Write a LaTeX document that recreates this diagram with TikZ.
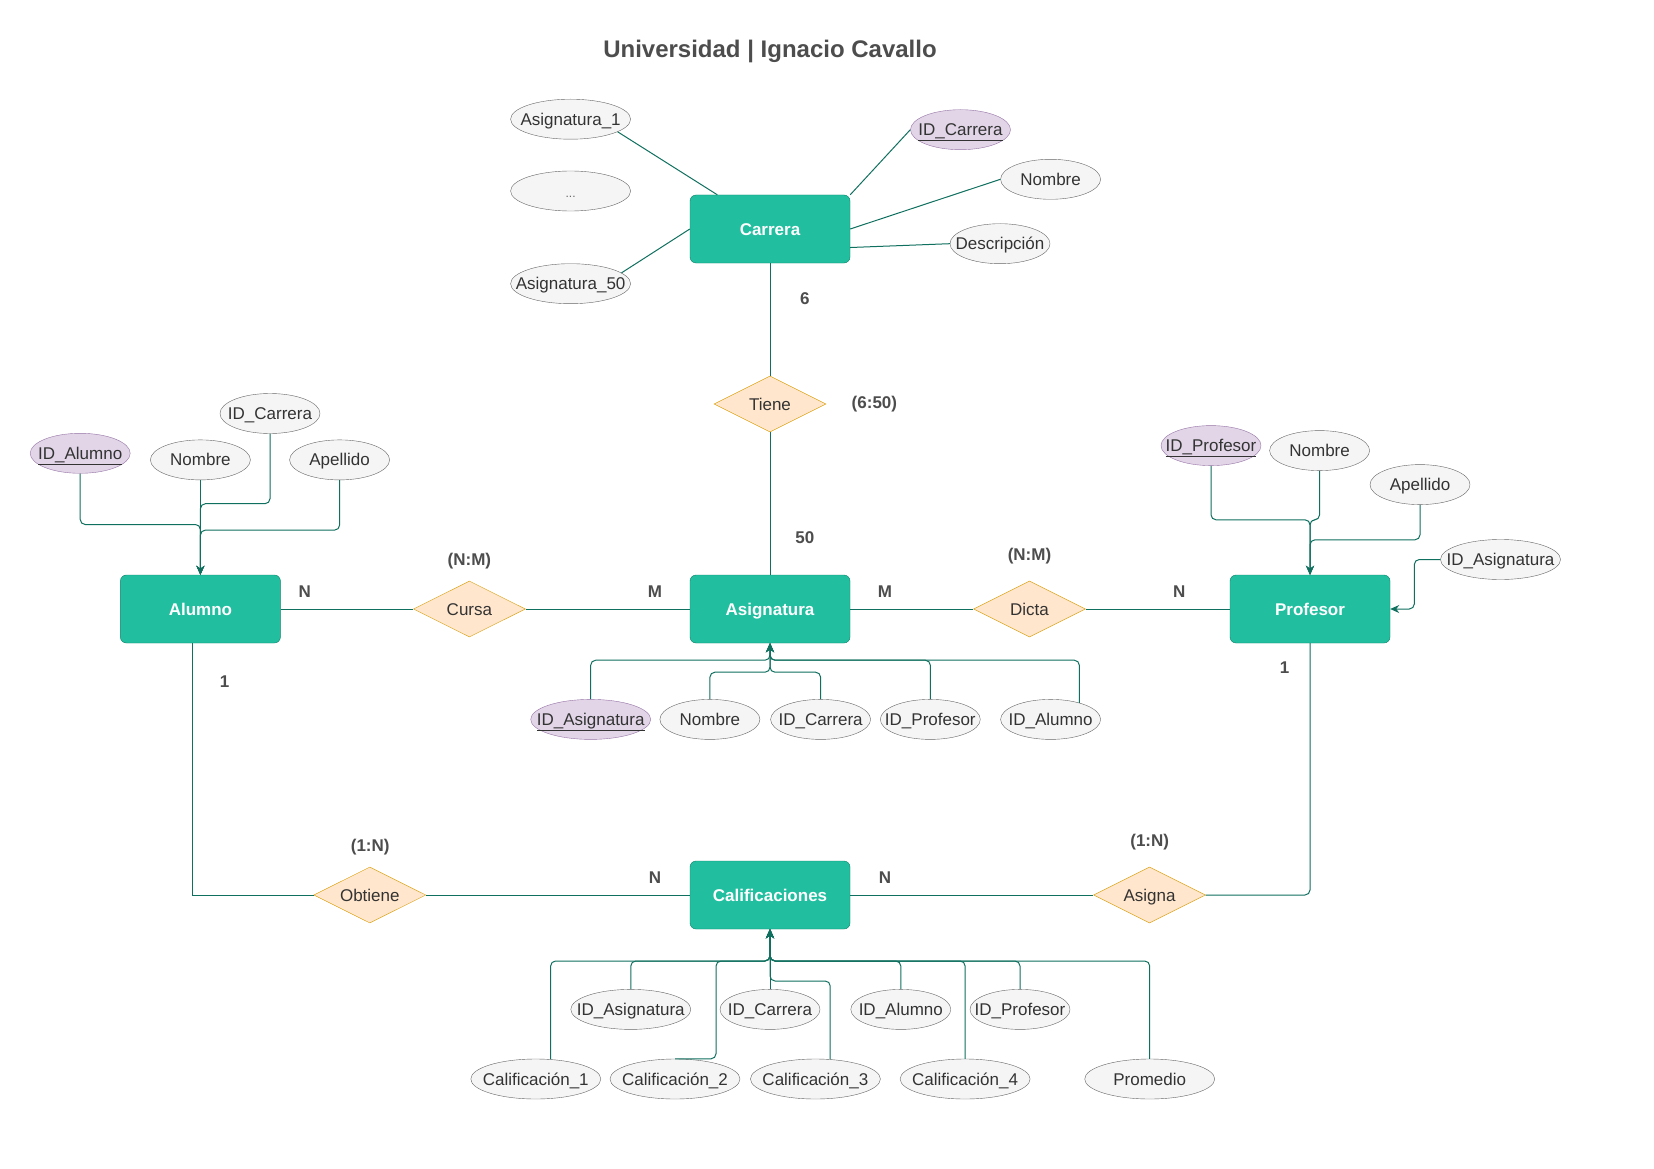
\documentclass[tikz,border=0pt]{standalone}
\usepackage{fontspec}
\setmainfont{Liberation Sans}
\usetikzlibrary{shapes.geometric,arrows.meta,calc}
\definecolor{entfill}{HTML}{21BFA0}
\definecolor{entline}{HTML}{0E8068}
\definecolor{relfill}{HTML}{FFE6CC}
\definecolor{relline}{HTML}{D79B00}
\definecolor{attfill}{HTML}{F5F5F5}
\definecolor{attline}{HTML}{666666}
\definecolor{keyfill}{HTML}{E1D5E7}
\definecolor{keyline}{HTML}{9673A6}
\definecolor{wire}{HTML}{10705F}
\definecolor{txt}{HTML}{333333}
\definecolor{labgray}{HTML}{4D4D4D}
\tikzset{
  entity/.style={draw=entline, fill=entfill, rounded corners=6pt, minimum width=160pt, minimum height=68pt, text height=14pt, text depth=2pt, text=white, font=\fontsize{17}{20}\selectfont\bfseries},
  relation/.style={diamond, aspect=2, draw=relline, fill=relfill, minimum width=112pt, minimum height=56pt, inner sep=0pt, text height=14pt, text depth=2pt, text=txt, font=\fontsize{17}{20}\selectfont},
  attrib/.style={ellipse, draw=attline, fill=attfill, minimum width=100pt, minimum height=40pt, inner xsep=-25pt, inner ysep=0pt, text height=14pt, text depth=2pt, text=txt, font=\fontsize{17}{20}\selectfont},
  keyattrib/.style={attrib, draw=keyline, fill=keyfill},
  card/.style={text=labgray, font=\fontsize{17}{20}\selectfont\bfseries},
  link/.style={draw=wire, line width=1pt},
  attrlink/.style={link, rounded corners=5pt, -{Stealth[length=9pt,width=8pt]}},
}

\begin{document}
\begin{tikzpicture}[x=1pt,y=-1pt]
\fill[white] (0,0) rectangle (1654,1169);
\useasboundingbox (0,0) rectangle (1654,1169);
\node[font=\fontsize{24}{28}\selectfont\bfseries, text=labgray] (title) at (770,51) {Universidad | Ignacio Cavallo};

% entidades y relaciones
\node[entity] (carrera) at (770,229) {Carrera};
\node[entity] (asig) at (770,609) {Asignatura};
\node[entity] (alumno) at (200.4,609) {Alumno};
\node[entity] (profesor) at (1310,609) {Profesor};
\node[entity] (calif) at (770,895) {Calificaciones};
\node[relation] (tiene) at (770,404) {Tiene};
\node[relation] (cursa) at (469.4,609) {Cursa};
\node[relation] (dicta) at (1029.5,609) {Dicta};
\node[relation] (obtiene) at (369.8,895) {Obtiene};
\node[relation] (asigna) at (1149.5,895) {Asigna};

% atributos Carrera
\node[attrib, minimum width=120pt] (carasig1) at (570.6,119.2) {Asignatura\_1};
\node[attrib, minimum width=120pt, font=\fontsize{12}{14}\selectfont, text=attline] (cardots) at (570.6,191) {...};
\node[attrib, minimum width=120pt] (carasig50) at (570.6,283.7) {Asignatura\_50};
\node[keyattrib] (carid) at (960.5,129.7) {\underline{ID\_Carrera}};
\node[attrib] (carnom) at (1050.6,179.3) {Nombre};
\node[attrib] (cardesc) at (1000,243.7) {Descripción};
\draw[link] (carasig1.-15) -- (carrera.147);
\draw[link] (carasig50.12) -- (carrera.west);
\draw[link] (carid.west) -- (carrera.north east);
\draw[link] (carnom.west) -- (carrera.east);
\draw[link] (cardesc.west) -- (carrera.-13);

% atributos Alumno
\node[keyattrib] (aluid) at (80.2,453.3) {\underline{ID\_Alumno}};
\node[attrib] (alunom) at (200.4,459.9) {Nombre};
\node[attrib] (alucar) at (270,413.5) {ID\_Carrera};
\node[attrib] (aluape) at (339.6,459.9) {Apellido};
\draw[attrlink] (aluid.south) -- ++(0,51) -| (alumno.north);
\draw[attrlink] (alunom.south) -- (alumno.north);
\draw[attrlink] (alucar.south) -- ++(0,70) -| (alumno.north);
\draw[attrlink] (aluape.south) -- ++(0,50) -| (alumno.north);

% atributos Profesor
\node[keyattrib] (proid) at (1211,445.6) {\underline{ID\_Profesor}};
\node[attrib] (pronom) at (1319.6,450.6) {Nombre};
\node[attrib] (proape) at (1420,484.6) {Apellido};
\node[attrib, minimum width=120pt] (proasi) at (1500.5,559.5) {ID\_Asignatura};
\draw[attrlink] (proid.south) -- ++(0,54) -| (profesor.north);
\draw[attrlink] (pronom.south) -- ++(0,49) -| (profesor.north);
\draw[attrlink] (proape.south) -- ++(0,35) -| (profesor.north);
\draw[attrlink] (proasi.west) -- ++(-26,0) |- (profesor.east);

% atributos Asignatura
\node[keyattrib, minimum width=120pt] (asiid) at (590.7,719.4) {\underline{ID\_Asignatura}};
\node[attrib] (asinom) at (709.9,719.4) {Nombre};
\node[attrib] (asicar) at (820.6,719.4) {ID\_Carrera};
\node[attrib] (asipro) at (930.3,719.4) {ID\_Profesor};
\node[attrib] (asialu) at (1050.6,719.4) {ID\_Alumno};
\draw[attrlink] (asiid.north) -- ++(0,-39) -| (asig.south);
\draw[attrlink] (asinom.north) -- ++(0,-27) -| (asig.south);
\draw[attrlink] (asicar.north) -- ++(0,-27) -| (asig.south);
\draw[attrlink] (asipro.north) -- ++(0,-39) -| (asig.south);
\draw[attrlink] (asialu.30) |- ($(asig.south)+(0,17)$) -- (asig.south);

% atributos Calificaciones
\coordinate (calbus) at (770,961);
\coordinate (calbus2) at (770,981);
\node[attrib, minimum width=120pt] (calasi) at (630.8,1009.4) {ID\_Asignatura};
\node[attrib] (calcar) at (770,1009.4) {ID\_Carrera};
\node[attrib] (calalu) at (900.8,1009.4) {ID\_Alumno};
\node[attrib] (calpro) at (1020,1009.4) {ID\_Profesor};
\node[attrib, minimum width=130pt] (cal1) at (535.8,1079) {Calificación\_1};
\node[attrib, minimum width=130pt] (cal2) at (675,1079) {Calificación\_2};
\node[attrib, minimum width=130pt] (cal3) at (815.4,1079) {Calificación\_3};
\node[attrib, minimum width=130pt] (cal4) at (965.1,1079) {Calificación\_4};
\node[attrib, minimum width=130pt] (prom) at (1149.7,1079) {Promedio};
\draw[attrlink] (calasi.north) |- (calbus) -- (calif.south);
\draw[attrlink] (calcar.north) -- (calif.south);
\draw[attrlink] (calalu.north) |- (calbus) -- (calif.south);
\draw[attrlink] (calpro.north) |- (calbus) -- (calif.south);
\draw[attrlink] (cal1.53) |- (calbus) -- (calif.south);
\draw[attrlink] (cal2.north) -- ++(41,0) |- (calbus) -- (calif.south);
\draw[attrlink] (cal3.53) |- (calbus2) -- (calif.south);
\draw[attrlink] (cal4.north) |- (calbus) -- (calif.south);
\draw[attrlink] (prom.north) |- (calbus) -- (calif.south);

% relaciones
\draw[link] (carrera) -- (tiene);
\draw[link] (tiene) -- (asig);
\draw[link] (alumno) -- (cursa);
\draw[link] (cursa) -- (asig);
\draw[link] (asig) -- (dicta);
\draw[link] (dicta) -- (profesor);
\draw[link] ($(alumno.south)+(-8.4,0)$) |- (obtiene.west);
\draw[link] (obtiene) -- (calif);
\draw[link] (calif) -- (asigna);
\draw[link, rounded corners=5pt] (asigna.east) -| (profesor.south);

% cardinalidades
\node[card] (k6) at (804.8,298.5) {6};
\node[card] (k650) at (874.4,404) {(6:50)};
\node[card] (k50) at (804.8,538) {50};
\node[card] (kcursa) at (469.4,561) {(N:M)};
\node[card] (kalun) at (304.8,591.7) {N};
\node[card] (kasim1) at (655,591.7) {M};
\node[card] (kasim2) at (885,591.7) {M};
\node[card] (kdicta) at (1029.5,555.9) {(N:M)};
\node[card] (kpron) at (1179.3,591.7) {N};
\node[card] (kalu1) at (224.7,681.4) {1};
\node[card] (kpro1) at (1284.7,667.7) {1};
\node[card] (kobt) at (370.2,847) {(1:N)};
\node[card] (kasg) at (1149.7,841.7) {(1:N)};
\node[card] (kcal1) at (655,877.6) {N};
\node[card] (kcal2) at (885,877.6) {N};
\end{tikzpicture}
\end{document}
